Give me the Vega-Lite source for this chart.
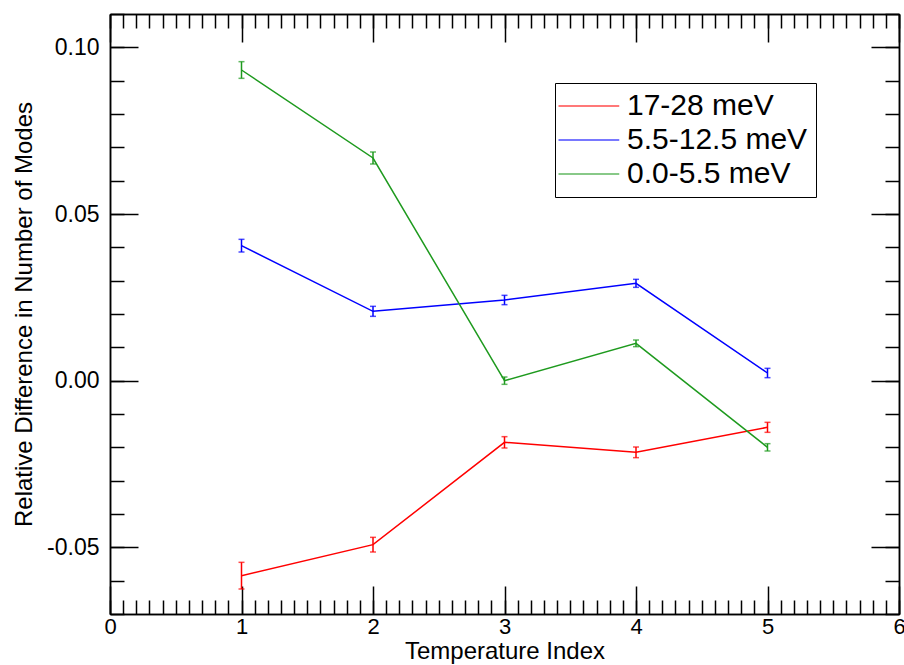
{
  "$schema": "https://vega.github.io/schema/vega-lite/v6.json",
  "width": 789,
  "height": 600,
  "autosize": {"type": "none"},
  "padding": {"left": 110, "top": 14, "right": 5, "bottom": 51},
  "background": "white",
  "data": {
    "values": [
      {"T": 1, "v": -0.0585, "err": 0.0040, "band": "17-28 meV"},
      {"T": 2, "v": -0.0492, "err": 0.0022, "band": "17-28 meV"},
      {"T": 3, "v": -0.0185, "err": 0.0017, "band": "17-28 meV"},
      {"T": 4, "v": -0.0215, "err": 0.0016, "band": "17-28 meV"},
      {"T": 5, "v": -0.0140, "err": 0.0015, "band": "17-28 meV"},
      {"T": 1, "v": 0.0405, "err": 0.0019, "band": "5.5-12.5 meV"},
      {"T": 2, "v": 0.0208, "err": 0.0015, "band": "5.5-12.5 meV"},
      {"T": 3, "v": 0.0242, "err": 0.0014, "band": "5.5-12.5 meV"},
      {"T": 4, "v": 0.0292, "err": 0.0012, "band": "5.5-12.5 meV"},
      {"T": 5, "v": 0.0023, "err": 0.0014, "band": "5.5-12.5 meV"},
      {"T": 1, "v": 0.0932, "err": 0.0025, "band": "0.0-5.5 meV"},
      {"T": 2, "v": 0.0668, "err": 0.0018, "band": "0.0-5.5 meV"},
      {"T": 3, "v": 0.0000, "err": 0.0011, "band": "0.0-5.5 meV"},
      {"T": 4, "v": 0.0112, "err": 0.0010, "band": "0.0-5.5 meV"},
      {"T": 5, "v": -0.0200, "err": 0.0011, "band": "0.0-5.5 meV"}
    ]
  },
  "resolve": {"axis": {"x": "independent", "y": "independent"}},
  "layer": [
    {
      "mark": {"type": "errorbar", "ticks": {"size": 6, "thickness": 1.5}, "thickness": 1.5},
      "encoding": {
        "x": {"field": "T", "type": "quantitative",
          "scale": {"domain": [0, 6], "nice": false, "zero": false},
          "axis": {"orient": "bottom", "values": [0, 1, 2, 3, 4, 5, 6], "format": "d", "tickSize": -28, "labelPadding": 30, "labelFontSize": 22, "title": "Temperature Index", "titlePadding": 2}},
        "y": {"field": "v", "type": "quantitative",
          "scale": {"domain": [-0.07, 0.11], "nice": false, "zero": false},
          "axis": {"orient": "left", "values": [-0.05, 0, 0.05, 0.1], "labelExpr": "datum.value < 0 ? '-' + format(-datum.value, '.2f') : format(datum.value, '.2f')", "tickSize": -28, "labelPadding": 39, "title": "Relative Difference in Number of Modes", "titlePadding": 10}},
        "yError": {"field": "err"},
        "color": {"field": "band", "type": "nominal",
          "scale": {"domain": ["17-28 meV", "5.5-12.5 meV", "0.0-5.5 meV"], "range": ["#ff0000", "#0000ff", "#1e9a1e"]},
          "legend": {"orient": "none", "legendX": 445, "legendY": 69, "title": null, "symbolType": "M-2.6,0H5.5", "symbolSize": 225, "symbolStrokeWidth": 1.5, "labelFontSize": 30, "labelFont": "Liberation Sans", "labelColor": "black", "labelOffset": 34, "padding": 8, "rowPadding": 4, "strokeColor": "black", "fillColor": "white", "labelLimit": 400}}
      }
    },
    {
      "mark": {"type": "line", "strokeWidth": 1.5},
      "encoding": {
        "x": {"field": "T", "type": "quantitative",
          "axis": {"orient": "bottom", "values": [0, 0.1, 0.2, 0.3, 0.4, 0.5, 0.6, 0.7, 0.8, 0.9, 1, 1.1, 1.2, 1.3, 1.4, 1.5, 1.6, 1.7, 1.8, 1.9, 2, 2.1, 2.2, 2.3, 2.4, 2.5, 2.6, 2.7, 2.8, 2.9, 3, 3.1, 3.2, 3.3, 3.4, 3.5, 3.6, 3.7, 3.8, 3.9, 4, 4.1, 4.2, 4.3, 4.4, 4.5, 4.6, 4.7, 4.8, 4.9, 5, 5.1, 5.2, 5.3, 5.4, 5.5, 5.6, 5.7, 5.8, 5.9, 6], "tickSize": -14, "labels": false, "title": null}},
        "y": {"field": "v", "type": "quantitative",
          "axis": {"orient": "left", "values": [-0.07, -0.06, -0.05, -0.04, -0.03, -0.02, -0.01, 0, 0.01, 0.02, 0.03, 0.04, 0.05, 0.06, 0.07, 0.08, 0.09, 0.1, 0.11], "tickSize": -14, "labels": false, "title": null}},
        "color": {"field": "band", "type": "nominal"}
      }
    },
    {
      "mark": {"type": "point", "opacity": 0},
      "encoding": {
        "x": {"field": "T", "type": "quantitative",
          "axis": {"orient": "top", "values": [0, 1, 2, 3, 4, 5, 6], "tickSize": -28, "labels": false, "title": null}},
        "y": {"field": "v", "type": "quantitative",
          "axis": {"orient": "right", "values": [-0.05, 0, 0.05, 0.1], "tickSize": -28, "labels": false, "title": null}}
      }
    },
    {
      "mark": {"type": "point", "opacity": 0},
      "encoding": {
        "x": {"field": "T", "type": "quantitative",
          "axis": {"orient": "top", "values": [0, 0.1, 0.2, 0.3, 0.4, 0.5, 0.6, 0.7, 0.8, 0.9, 1, 1.1, 1.2, 1.3, 1.4, 1.5, 1.6, 1.7, 1.8, 1.9, 2, 2.1, 2.2, 2.3, 2.4, 2.5, 2.6, 2.7, 2.8, 2.9, 3, 3.1, 3.2, 3.3, 3.4, 3.5, 3.6, 3.7, 3.8, 3.9, 4, 4.1, 4.2, 4.3, 4.4, 4.5, 4.6, 4.7, 4.8, 4.9, 5, 5.1, 5.2, 5.3, 5.4, 5.5, 5.6, 5.7, 5.8, 5.9, 6], "tickSize": -14, "labels": false, "title": null}},
        "y": {"field": "v", "type": "quantitative",
          "axis": {"orient": "right", "values": [-0.07, -0.06, -0.05, -0.04, -0.03, -0.02, -0.01, 0, 0.01, 0.02, 0.03, 0.04, 0.05, 0.06, 0.07, 0.08, 0.09, 0.1, 0.11], "tickSize": -14, "labels": false, "title": null}}
      }
    }
  ],
  "config": {
    "view": {"stroke": null},
    "axis": {
      "grid": false,
      "domainColor": "black",
      "domainWidth": 1.5,
      "tickColor": "black",
      "tickWidth": 1.5,
      "labelColor": "black",
      "titleColor": "black",
      "labelFont": "Liberation Sans",
      "titleFont": "Liberation Sans",
      "labelFontSize": 23,
      "titleFontSize": 24,
      "titleFontWeight": "normal",
      "labelFlush": false,
      "labelOverlap": false,
      "labelBound": false
    }
  }
}
